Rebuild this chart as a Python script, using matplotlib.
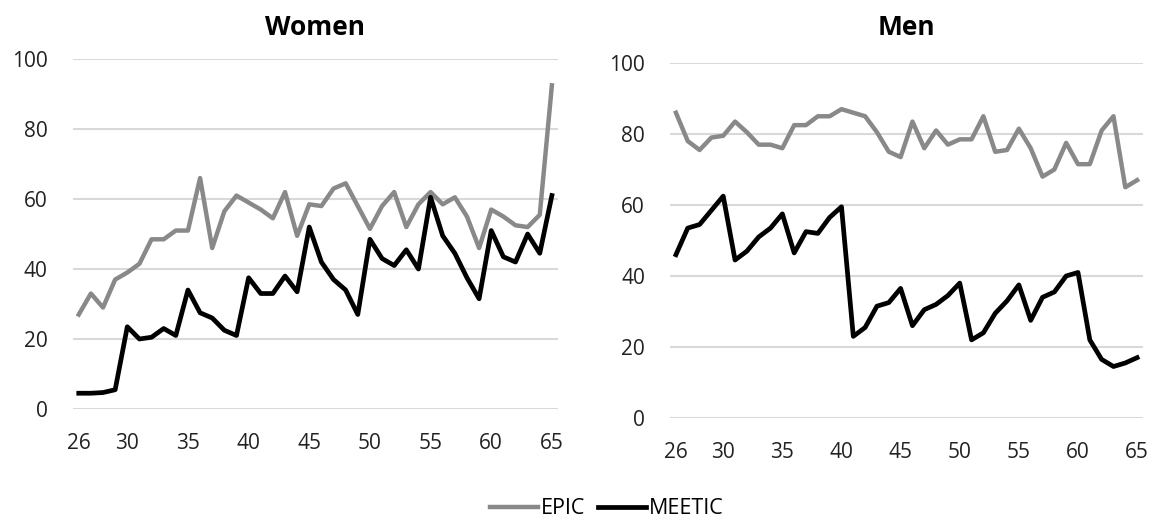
import numpy as np
from matplotlib import pyplot as plt

ages = np.arange(26, 66)

women_epic = [27, 33, 29, 37, 39, 41.5, 48.5, 48.5, 51, 51,
              66, 46, 56.5, 61, 59, 57, 54.5, 62, 49.5, 58.5,
              58, 63, 64.5, 58, 51.5, 58, 62, 52, 58.5, 62,
              58.5, 60.5, 55, 46, 57, 55, 52.5, 52, 55.5, 92.5]
women_meetic = [4.5, 4.5, 4.7, 5.5, 23.5, 20, 20.5, 23, 21, 34,
                27.5, 26, 22.5, 21, 37.5, 33, 33, 38, 33.5, 52,
                42, 37, 34, 27, 48.5, 43, 41, 45.5, 40, 60.5,
                49.5, 44.5, 37.5, 31.5, 51, 43.5, 42, 50, 44.5, 61]
men_epic = [86, 78, 75.5, 79, 79.5, 83.5, 80.5, 77, 77, 76,
            82.5, 82.5, 85, 85, 87, 86, 85, 80.5, 75, 73.5,
            83.5, 76, 81, 77, 78.5, 78.5, 85, 75, 75.5, 81.5,
            76, 68, 70, 77.5, 71.5, 71.5, 81, 85, 65, 67]
men_meetic = [46, 53.5, 54.5, 58.5, 62.5, 44.5, 47, 51, 53.5, 57.5,
              46.5, 52.5, 52, 56.5, 59.5, 23, 25.5, 31.5, 32.5, 36.5,
              26, 30.5, 32, 34.5, 38, 22, 24, 29.5, 33, 37.5,
              27.5, 34, 35.5, 40, 41, 22, 16.5, 14.5, 15.5, 17]

xticks = [26, 30, 35, 40, 45, 50, 55, 60, 65]
yticks = [0, 20, 40, 60, 80, 100]

plt.rcParams['font.family'] = ['Open Sans', 'DejaVu Sans']

fig = plt.figure(figsize=(11.54, 5.23), dpi=100)
ax1 = fig.add_axes([0.063, 0.218, 0.4205, 0.669])
ax2 = fig.add_axes([0.5806, 0.2008, 0.4099, 0.6787])

gray = '#898989'
for ax, epic, meetic in [(ax1, women_epic, women_meetic),
                         (ax2, men_epic, men_meetic)]:
    ax.plot(ages, epic, color=gray, lw=3.2, label='EPIC')
    ax.plot(ages, meetic, color='black', lw=3.4, label='MEETIC')
    ax.set_xlim(25.5, 65.5)
    ax.set_ylim(0, 100)
    ax.set_xticks(xticks)
    ax.set_yticks(yticks)
    ax.grid(axis='y', color='#d9d9d9', lw=1.5)
    ax.set_axisbelow(True)
    for s in ax.spines.values():
        s.set_visible(False)
    ax.tick_params(length=0, labelsize=15, labelcolor='#222222')
    ax.tick_params(axis='y', pad=18)
    ax.tick_params(axis='x', pad=17)

# titles sit at the same height in both panels
fig.text(0.2733, 0.948, 'Women', ha='center', va='center', fontsize=19, fontweight='bold')
fig.text(0.7855, 0.948, 'Men', ha='center', va='center', fontsize=19, fontweight='bold')

handles, labels = ax1.get_legend_handles_labels()
fig.legend(handles, labels, loc='lower center', bbox_to_anchor=(0.526, -0.03), ncol=2,
           frameon=False, fontsize=15.5, handlelength=2.2, columnspacing=0.6,
           handletextpad=0.15)

fig.savefig('out.png', dpi=100)
